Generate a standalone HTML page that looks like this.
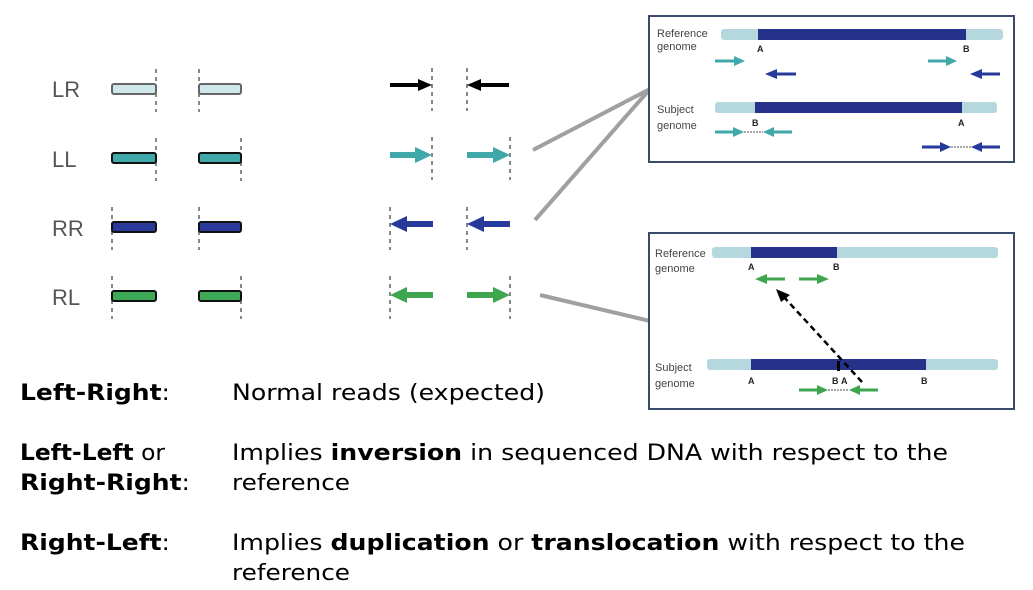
<!DOCTYPE html>
<html><head><meta charset="utf-8"><style>
html,body{margin:0;padding:0;background:#fff;width:1033px;height:590px;overflow:hidden}
</style></head><body>
<svg width="1033" height="590" viewBox="0 0 1033 590" xmlns="http://www.w3.org/2000/svg">
<g font-family="Liberation Sans, sans-serif" font-size="22" fill="#555">
<text x="52" y="97">LR</text>
<text x="52" y="167">LL</text>
<text x="52" y="236">RR</text>
<text x="52" y="305">RL</text>
</g>
<g stroke="#888" stroke-width="2" stroke-dasharray="4,4">
<line x1="156" y1="69" x2="156" y2="112"/><line x1="199" y1="69" x2="199" y2="112"/>
<line x1="156" y1="138" x2="156" y2="181"/><line x1="241" y1="138" x2="241" y2="181"/>
<line x1="112" y1="207" x2="112" y2="250"/><line x1="199" y1="207" x2="199" y2="250"/>
<line x1="112" y1="276" x2="112" y2="319"/><line x1="241" y1="276" x2="241" y2="319"/>
<line x1="432" y1="68" x2="432" y2="111"/><line x1="467" y1="68" x2="467" y2="111"/>
<line x1="432" y1="137" x2="432" y2="180"/><line x1="510" y1="137" x2="510" y2="180"/>
<line x1="390" y1="207" x2="390" y2="250"/><line x1="467" y1="207" x2="467" y2="250"/>
<line x1="390" y1="276" x2="390" y2="319"/><line x1="510" y1="276" x2="510" y2="319"/>
</g>
<g stroke-width="2">
<rect x="112" y="84" width="44" height="10" rx="2" fill="#cfe6ea" stroke="#666"/>
<rect x="199" y="84" width="42" height="10" rx="2" fill="#cfe6ea" stroke="#666"/>
<rect x="112" y="153" width="44" height="10" rx="2" fill="#3fa9a9" stroke="#111"/>
<rect x="199" y="153" width="42" height="10" rx="2" fill="#3fa9a9" stroke="#111"/>
<rect x="112" y="222" width="44" height="10" rx="2" fill="#2a3a9a" stroke="#111"/>
<rect x="199" y="222" width="42" height="10" rx="2" fill="#2a3a9a" stroke="#111"/>
<rect x="112" y="291" width="44" height="10" rx="2" fill="#3faa55" stroke="#111"/>
<rect x="199" y="291" width="42" height="10" rx="2" fill="#3faa55" stroke="#111"/>
</g>
<g stroke-width="4">
<line x1="390" y1="85" x2="420" y2="85" stroke="#000"/><polygon points="418,79 432,85 418,91" fill="#000"/>
<line x1="509" y1="85" x2="479" y2="85" stroke="#000"/><polygon points="481,79 467,85 481,91" fill="#000"/>
</g>
<g stroke-width="6">
<line x1="390" y1="155" x2="418" y2="155" stroke="#40a8a8"/><polygon points="415,147 432,155 415,163" fill="#40a8a8"/>
<line x1="467" y1="155" x2="496" y2="155" stroke="#40a8a8"/><polygon points="493,147 510,155 493,163" fill="#40a8a8"/>
<line x1="433" y1="224" x2="404" y2="224" stroke="#27399a"/><polygon points="407,216 390,224 407,232" fill="#27399a"/>
<line x1="510" y1="224" x2="481" y2="224" stroke="#27399a"/><polygon points="484,216 467,224 484,232" fill="#27399a"/>
<line x1="433" y1="295" x2="404" y2="295" stroke="#3fa650"/><polygon points="407,287 390,295 407,303" fill="#3fa650"/>
<line x1="467" y1="295" x2="496" y2="295" stroke="#3fa650"/><polygon points="493,287 510,295 493,303" fill="#3fa650"/>
</g>
<g stroke="#a0a0a0" stroke-width="4">
<line x1="533" y1="150" x2="650" y2="89"/>
<line x1="535" y1="220" x2="650" y2="89"/>
<line x1="540" y1="295" x2="650" y2="321"/>
</g>
<rect x="649" y="16" width="365" height="146" fill="#fff" stroke="#3a4a6a" stroke-width="2"/>
<g font-family="Liberation Sans, sans-serif" font-size="11" fill="#444">
<text x="657" y="37">Reference</text><text x="657" y="50">genome</text>
<text x="657" y="113">Subject</text><text x="657" y="129">genome</text>
</g>
<rect x="721" y="29" width="282" height="11" rx="3" fill="#b5d8de"/>
<rect x="758" y="29" width="208" height="11" fill="#26328a"/>
<rect x="715" y="102" width="282" height="11" rx="3" fill="#b5d8de"/>
<rect x="755" y="102" width="207" height="11" fill="#26328a"/>
<g font-family="Liberation Sans, sans-serif" font-size="9" font-weight="bold" fill="#222">
<text x="757" y="52">A</text><text x="963" y="52">B</text>
<text x="752" y="126">B</text><text x="958" y="126">A</text>
</g>
<g stroke-width="3">
<line x1="715" y1="61" x2="736" y2="61" stroke="#40a8a8"/><polygon points="734,56 745,61 734,66" fill="#40a8a8"/>
<line x1="928" y1="61" x2="948" y2="61" stroke="#40a8a8"/><polygon points="946,56 957,61 946,66" fill="#40a8a8"/>
<line x1="796" y1="74" x2="775" y2="74" stroke="#27399a"/><polygon points="777,69 765,74 777,79" fill="#27399a"/>
<line x1="1000" y1="74" x2="980" y2="74" stroke="#27399a"/><polygon points="982,69 970,74 982,79" fill="#27399a"/>
<line x1="715" y1="132" x2="735" y2="132" stroke="#40a8a8"/><polygon points="733,127 744,132 733,137" fill="#40a8a8"/>
<line x1="792" y1="132" x2="772" y2="132" stroke="#40a8a8"/><polygon points="774,127 763,132 774,137" fill="#40a8a8"/>
<line x1="922" y1="147" x2="942" y2="147" stroke="#27399a"/><polygon points="940,142 951,147 940,152" fill="#27399a"/>
<line x1="1000" y1="147" x2="980" y2="147" stroke="#27399a"/><polygon points="982,142 971,147 982,152" fill="#27399a"/>
</g>
<line x1="744" y1="132" x2="763" y2="132" stroke="#888" stroke-width="1.5" stroke-dasharray="2,1"/>
<line x1="951" y1="147" x2="971" y2="147" stroke="#888" stroke-width="1.5" stroke-dasharray="2,1"/>
<rect x="649" y="233" width="365" height="176" fill="#fff" stroke="#3a4a6a" stroke-width="2"/>
<g font-family="Liberation Sans, sans-serif" font-size="11" fill="#444">
<text x="655" y="257">Reference</text><text x="655" y="272">genome</text>
<text x="655" y="371">Subject</text><text x="655" y="387">genome</text>
</g>
<rect x="712" y="247" width="286" height="11" rx="3" fill="#b5d8de"/>
<rect x="751" y="247" width="86" height="11" fill="#26328a"/>
<rect x="707" y="359" width="291" height="11" rx="3" fill="#b5d8de"/>
<rect x="751" y="359" width="175" height="11" fill="#26328a"/>
<rect x="837" y="361" width="3" height="10" fill="#000"/>
<g font-family="Liberation Sans, sans-serif" font-size="9" font-weight="bold" fill="#222">
<text x="748" y="270">A</text><text x="833" y="270">B</text>
<text x="748" y="384">A</text><text x="832" y="384">B</text><text x="841" y="384">A</text><text x="921" y="384">B</text>
</g>
<g stroke-width="3">
<line x1="785" y1="279" x2="765" y2="279" stroke="#3fa650"/><polygon points="767,274 755,279 767,284" fill="#3fa650"/>
<line x1="799" y1="279" x2="819" y2="279" stroke="#3fa650"/><polygon points="817,274 829,279 817,284" fill="#3fa650"/>
<line x1="799" y1="390" x2="819" y2="390" stroke="#3fa650"/><polygon points="817,385 828,390 817,395" fill="#3fa650"/>
<line x1="878" y1="390" x2="858" y2="390" stroke="#3fa650"/><polygon points="860,385 849,390 860,395" fill="#3fa650"/>
</g>
<line x1="828" y1="390" x2="849" y2="390" stroke="#888" stroke-width="1.5" stroke-dasharray="2,1"/>
<line x1="862" y1="382" x2="783" y2="296" stroke="#000" stroke-width="2.5" stroke-dasharray="6,4"/>
<polygon points="776,289 790,295 781,302" fill="#000"/>
<g font-family="DejaVu Sans, Liberation Sans, sans-serif" font-size="22" fill="#000">
<text x="20" y="400" textLength="150" lengthAdjust="spacingAndGlyphs"><tspan font-weight="bold">Left-Right</tspan>:</text>
<text x="232" y="400" textLength="313" lengthAdjust="spacingAndGlyphs">Normal reads (expected)</text>
<text x="20" y="460" textLength="145" lengthAdjust="spacingAndGlyphs"><tspan font-weight="bold">Left-Left</tspan> or</text>
<text x="20" y="490" textLength="170" lengthAdjust="spacingAndGlyphs"><tspan font-weight="bold">Right-Right</tspan>:</text>
<text x="232" y="460" textLength="716" lengthAdjust="spacingAndGlyphs">Implies <tspan font-weight="bold">inversion</tspan> in sequenced DNA with respect to the</text>
<text x="232" y="490" textLength="118" lengthAdjust="spacingAndGlyphs">reference</text>
<text x="20" y="550" textLength="150" lengthAdjust="spacingAndGlyphs"><tspan font-weight="bold">Right-Left</tspan>:</text>
<text x="232" y="550" textLength="733" lengthAdjust="spacingAndGlyphs">Implies <tspan font-weight="bold">duplication</tspan> or <tspan font-weight="bold">translocation</tspan> with respect to the</text>
<text x="232" y="580" textLength="118" lengthAdjust="spacingAndGlyphs">reference</text>
</g>
</svg>
</body></html>
